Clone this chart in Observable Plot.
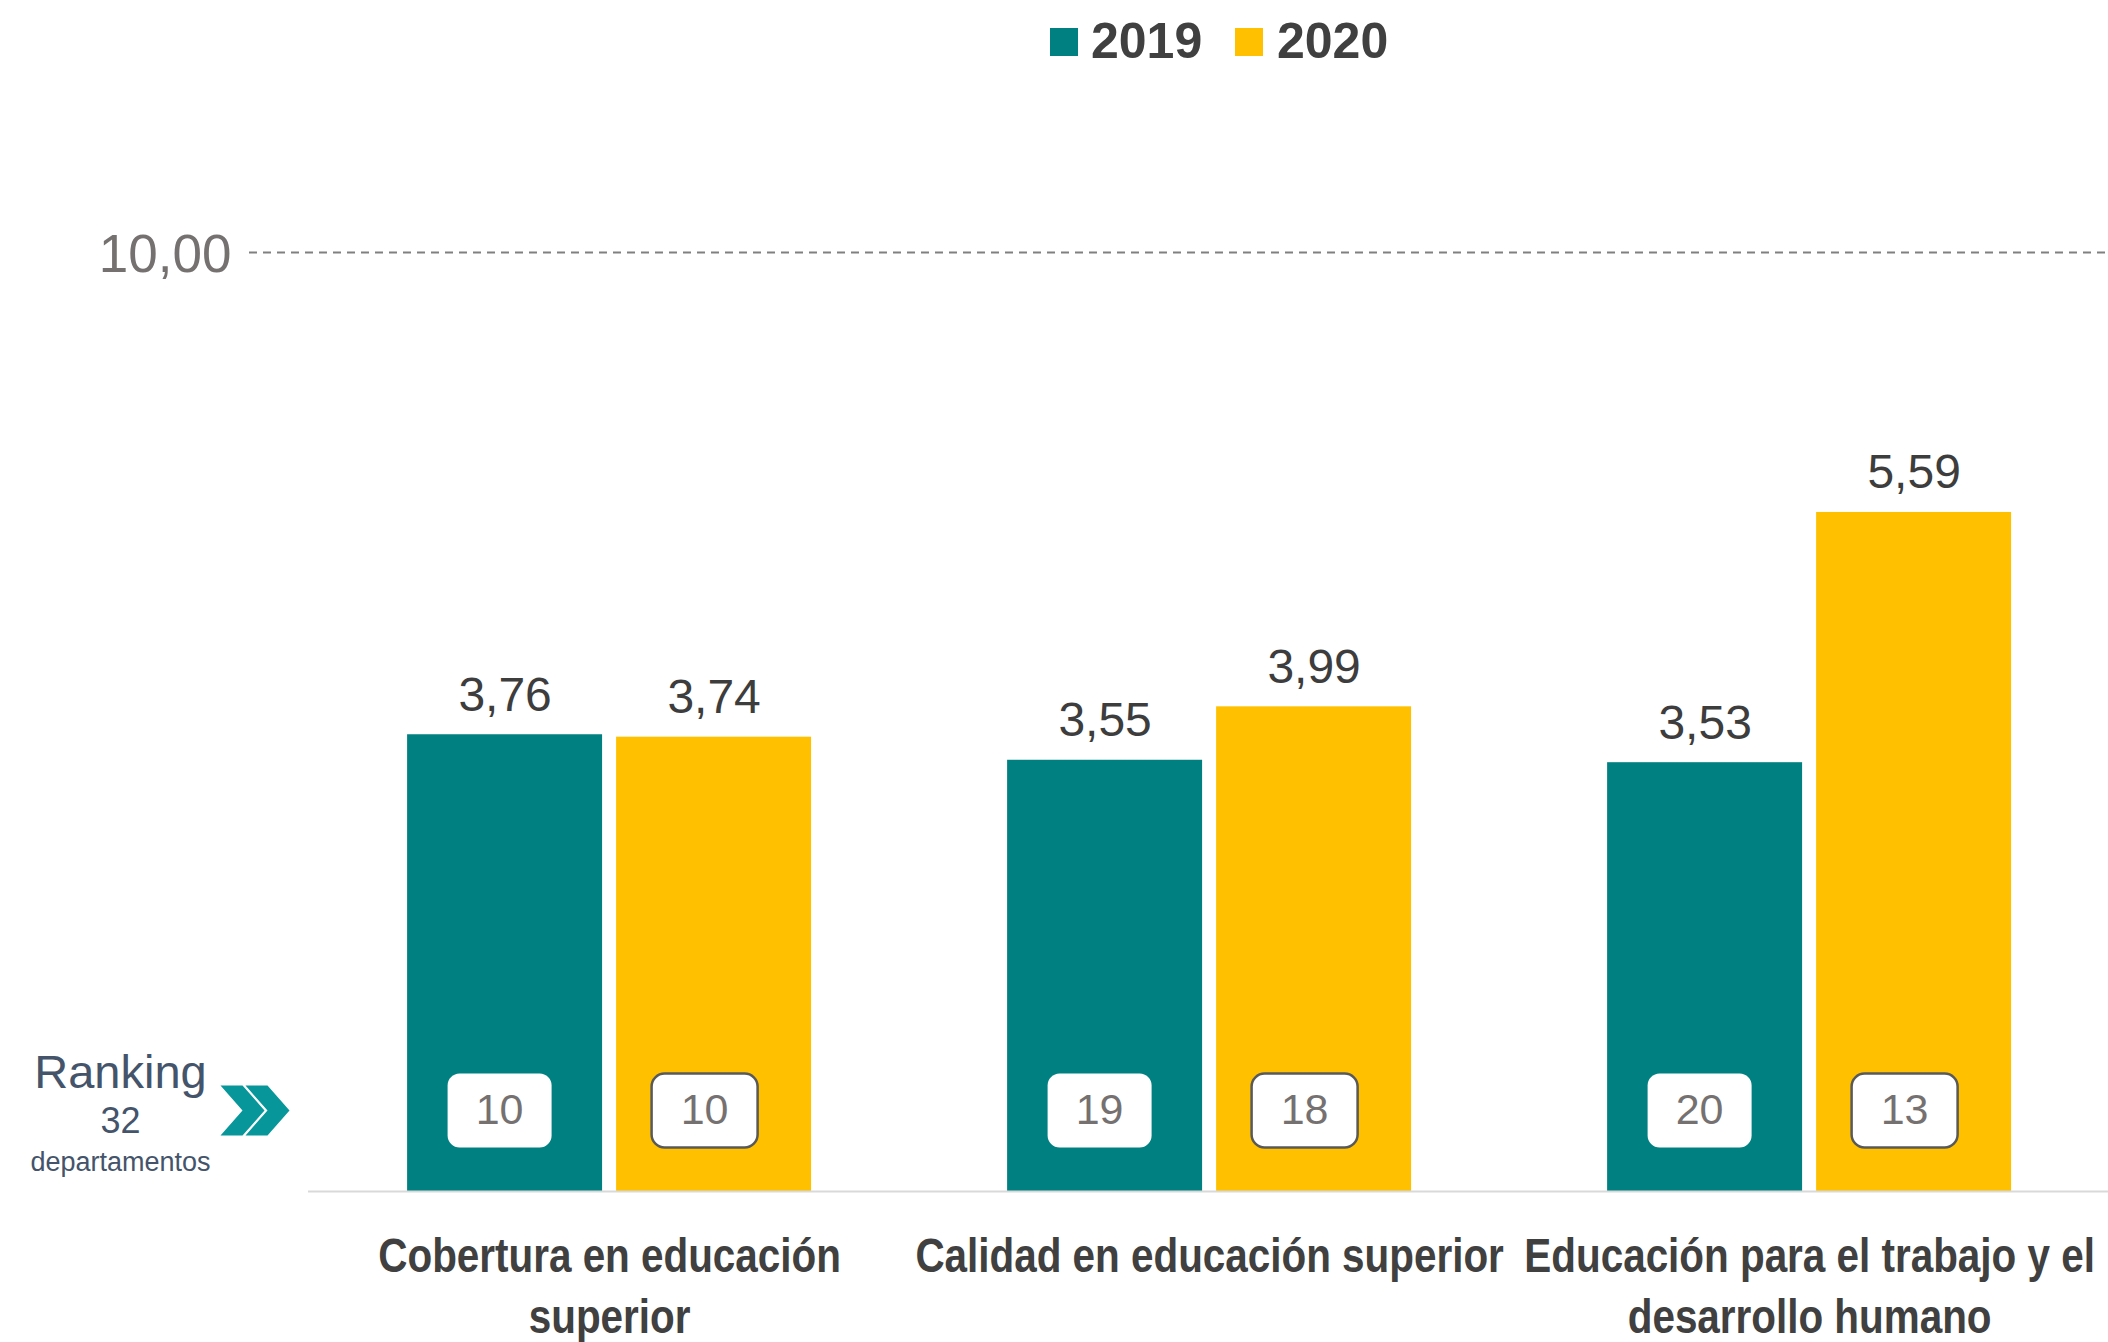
<!DOCTYPE html>
<html><head><meta charset="utf-8">
<script src="https://cdn.jsdelivr.net/npm/d3@7"></script>
<script src="https://cdn.jsdelivr.net/npm/@observablehq/plot@0.6"></script>
<style>
body{margin:0;background:#fff;width:2108px;height:1342px;overflow:hidden;font-family:"Liberation Sans",Arial,sans-serif}
#legend{position:relative;height:90px;width:2108px}
.sw{position:absolute;top:28px;width:28px;height:28px}
.lt{position:absolute;top:13px;font-size:50px;font-weight:bold;color:#404040;line-height:57px;font-family:"Liberation Sans",Arial,sans-serif}
#chart svg{display:block}
</style></head><body>
<div id="legend"></div><div id="chart"></div>
<script>
// ---- data ----
const categories = ["Cobertura en educación superior", "Calidad en educación superior", "Educación para el trabajo y el desarrollo humano"];
const axisLabels = ["Cobertura en educación\nsuperior", "Calidad en educación superior", "Educación para el trabajo y el\ndesarrollo humano"];
const years = ["2019", "2020"];
const values2019 = [3.76, 3.55, 3.53];
const values2020 = [3.74, 3.99, 5.59];
const rank2019 = [10, 19, 20];
const rank2020 = [10, 18, 13];
const refLabel = "10,00";
const rankingTitle = ["Ranking", "32", "departamentos"];
const yTop = 7.73; // where the "10,00" reference line sits on the bars' scale

// ---- styling ----
const colors = {"2019": "#008080", "2020": "#FFC000"};
const fmt = v => d3.format(".2f")(v).replace(".", ",");

const rows2019 = categories.map((c, i) => ({category: c, year: "2019", value: values2019[i], rank: rank2019[i]}));
const rows2020 = categories.map((c, i) => ({category: c, year: "2020", value: values2020[i], rank: rank2020[i]}));

// legend
const legend = document.getElementById("legend");
const legendX = [[1050, 1091], [1235, 1277]];
years.forEach((y, i) => {
  const s = document.createElement("div"); s.className = "sw"; s.style.left = legendX[i][0] + "px"; s.style.background = colors[y]; legend.appendChild(s);
  const t = document.createElement("div"); t.className = "lt"; t.style.left = legendX[i][1] + "px"; t.textContent = y; legend.appendChild(t);
});

function roundRect(w, h, r) {
  return {draw(ctx) {
    const x = -w / 2, y = -h / 2;
    ctx.moveTo(x + r, y); ctx.lineTo(x + w - r, y); ctx.arcTo(x + w, y, x + w, y + r, r);
    ctx.lineTo(x + w, y + h - r); ctx.arcTo(x + w, y + h, x + w - r, y + h, r);
    ctx.lineTo(x + r, y + h); ctx.arcTo(x, y + h, x, y + h - r, r);
    ctx.lineTo(x, y + r); ctx.arcTo(x, y, x + r, y, r); ctx.closePath();
  }};
}
const chevrons = {draw(ctx) {
  const c = (x0) => { ctx.moveTo(x0, -25); ctx.lineTo(x0 + 22, -25); ctx.lineTo(x0 + 44, 0); ctx.lineTo(x0 + 22, 25); ctx.lineTo(x0, 25); ctx.lineTo(x0 + 22, 0); ctx.closePath(); };
  c(-33); c(-8);
}};

const valueText = (rows, dx) => Plot.text(rows, {x: "category", y: "value", text: d => fmt(d.value), dx, dy: -24, lineAnchor: "bottom", fontSize: 48, fill: "#3d3d3d"});
const leftText = (t, dy, size) => Plot.text([t], {text: d => d, frameAnchor: "bottom-left", dx: -129, dy, fontSize: size, fill: "#44546A", textAnchor: "middle", lineAnchor: "middle"});

const chart = Plot.plot({
  width: 2108, height: 1252,
  marginLeft: 249, marginRight: 0, marginTop: 162, marginBottom: 151,
  style: {fontFamily: "'Liberation Sans',Arial,sans-serif", background: "white"},
  x: {domain: categories, paddingInner: 0.3267, paddingOuter: 0.2125, align: 0.62, round: false},
  y: {domain: [0, yTop], axis: null},
  marks: [
    Plot.ruleY([yTop], {stroke: "#808080", strokeWidth: 2, strokeDasharray: "8,6"}),
    Plot.text([refLabel], {text: d => d, frameAnchor: "top-left", dx: -18, dy: 3, textAnchor: "end", lineAnchor: "middle", fontSize: 53, fill: "#767171"}),
    Plot.barY(rows2019, {x: "category", y: "value", fill: colors["2019"], insetRight: 209}),
    Plot.barY(rows2020, {x: "category", y: "value", fill: colors["2020"], insetLeft: 209}),
    Plot.ruleY([0], {stroke: "#d9d9d9", strokeWidth: 2, insetLeft: 59}),
    valueText(rows2019, -104.5),
    valueText(rows2020, 104.5),
    Plot.dot(rows2019, {x: "category", frameAnchor: "bottom", dx: -110, dy: -81, symbol: roundRect(104, 74, 12), fill: "white"}),
    Plot.dot(rows2020, {x: "category", frameAnchor: "bottom", dx: 95, dy: -81, symbol: roundRect(106, 74, 13), fill: "white", stroke: "#595959", strokeWidth: 2.5}),
    Plot.text(rows2019, {x: "category", frameAnchor: "bottom", dx: -110, dy: -81, text: "rank", fontSize: 43, fill: "#767171", lineAnchor: "middle"}),
    Plot.text(rows2020, {x: "category", frameAnchor: "bottom", dx: 95, dy: -81, text: "rank", fontSize: 43, fill: "#767171", lineAnchor: "middle"}),
    leftText(rankingTitle[0], -119, 47),
    leftText(rankingTitle[1], -70, 36),
    leftText(rankingTitle[2], -29, 27),
    Plot.dot([0], {frameAnchor: "bottom-left", dx: 4, dy: -81, symbol: chevrons, fill: "#07979A"}),
    Plot.axisX({tickSize: 0, tickPadding: 37, label: null, tickFormat: d => axisLabels[categories.indexOf(d)], fontSize: 49, fontWeight: "bold", fontFamily: "'Liberation Sans',Arial,sans-serif", color: "#404040", lineHeight: 1.245})
  ]
});
// emulate a narrow (condensed) face for the category labels
const flat = axisLabels.map(s => s.replace("\n", ""));
chart.querySelectorAll("text").forEach(t => {
  if (!flat.includes(t.textContent)) return;
  let tr = t.getAttribute("transform");
  if (!tr) {
    const x = t.getAttribute("x") || 0, y = t.getAttribute("y") || 0;
    t.removeAttribute("x"); t.removeAttribute("y");
    tr = `translate(${x},${y})`;
  }
  t.setAttribute("transform", tr + " scale(0.825,1)");
});
document.getElementById("chart").appendChild(chart);
</script>
</body></html>
